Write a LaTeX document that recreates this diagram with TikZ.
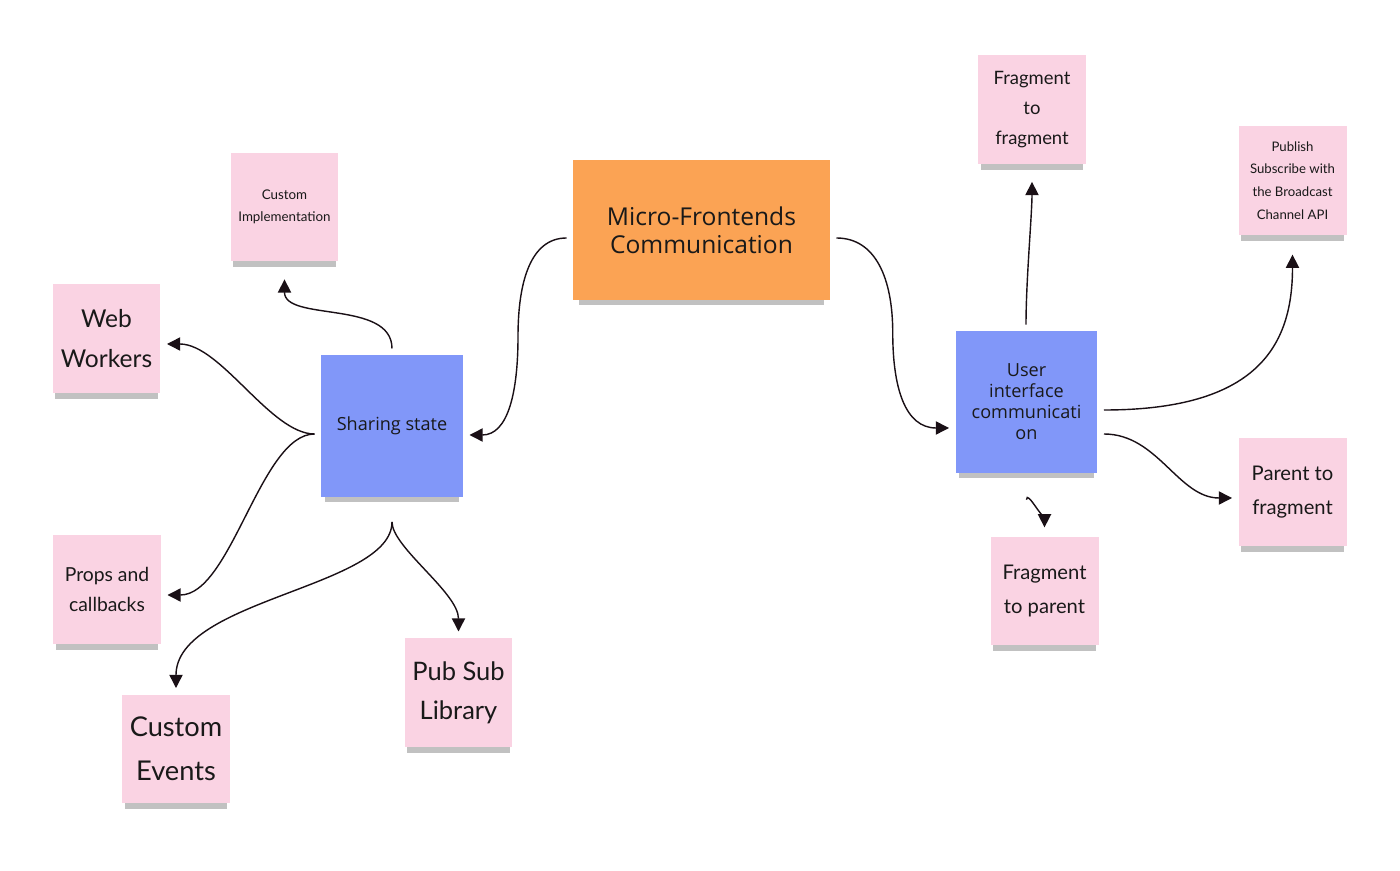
\documentclass[tikz,border=0pt]{standalone}
\usepackage{fontspec}
\setmainfont{Open Sans}
\newfontfamily\notefont{Lato}
\usetikzlibrary{arrows.meta,shadows,calc}
\definecolor{hubfill}{HTML}{FBA354}
\definecolor{topicfill}{HTML}{8197F9}
\definecolor{notefill}{HTML}{FAD3E3}
\definecolor{inkline}{HTML}{1A1016}

\tikzset{
  card/.style={rectangle,inner sep=2pt,align=center,text=black!90,
    general shadow={fill=black!40,shadow yshift=-5pt,shadow scale=0.95,opacity=0.6}},
  hub/.style={card,fill=hubfill,minimum width=5.14cm,minimum height=2.8cm,font=\fontsize{14}{16}\selectfont},
  topic/.style={card,fill=topicfill,minimum width=2.84cm,minimum height=2.84cm,font=\fontsize{10.3}{12}\selectfont},
  note/.style 2 args={card,fill=notefill,minimum width=2.16cm,minimum height=2.18cm,font=\notefont\fontsize{#1}{#2}\selectfont},
  link/.style={-{Triangle[length=7.5pt,width=7.5pt]},draw=inkline,line width=0.8pt,shorten <=3.5pt,shorten >=3.5pt},
}

\begin{document}
\begin{tikzpicture}[x=0.02cm,y=-0.02cm]
\useasboundingbox[fill=white] (0,0) rectangle (1400,871);

% centre and the two topics
\node[hub] (hub) at (701.5,230) {Micro-Frontends\\Communication};
\node[topic] (share) at (392,426) {Sharing state};
\node[topic] (ui) at (1026.5,402) {User\\interface\\communicati\\on};

% notes round sharing state
\node[note={7.6}{12.8}] (impl) at (284.5,207) {Custom\\Implementation};
\node[note={14}{22.7}] (web) at (106.5,338.5) {Web\\Workers};
\node[note={11}{17}] (props) at (107,589.5) {Props and\\callbacks};
\node[note={15.5}{25}] (events) at (176,749) {Custom\\Events};
\node[note={14.5}{22}] (pubsub) at (458.5,692.5) {Pub Sub\\Library};

% notes round ui communication
\node[note={10.5}{17}] (frag) at (1032,109.5) {Fragment\\to\\fragment};
\node[note={7.5}{12.9}] (bcast) at (1292.5,180.5) {Publish\\Subscribe with\\the Broadcast\\Channel API};
\node[note={11.5}{19.3}] (parent) at (1292.5,492) {Parent to\\fragment};
\node[note={11.5}{19.3}] (fragp) at (1044.5,591) {Fragment\\to parent};

% links from the centre
\coordinate (hl) at ([yshift=-0.16cm]hub.west);
\coordinate (sr) at ([yshift=-0.18cm]share.east);
\draw[link] (hl) .. controls +(-42,0) and +(0,-55) .. ($(hl)!0.5!(sr)$)
  .. controls +(0,55) and +(45,0) .. (sr);
\coordinate (hr) at ([yshift=-0.16cm]hub.east);
\coordinate (ul) at ([yshift=-0.52cm]ui.west);
\draw[link] (hr) .. controls +(45,0) and +(0,-55) .. ($(hr)!0.5!(ul)$)
  .. controls +(0,55) and +(-50,0) .. (ul);

% sharing state
\draw[link,shorten >=10pt] (share.north) .. controls +(0,-55) and +(0,60) .. (impl.south);
\draw[link] ([yshift=-0.16cm]share.west) .. controls +(-50,0) and +(60,0) .. ([yshift=-0.11cm]web.east);
\draw[link] ([yshift=-0.16cm]share.west) .. controls +(-60,0) and +(70,0) .. ([yshift=-0.11cm]props.east);
\draw[link,shorten <=14pt] (share.south) .. controls +(0,90) and +(0,-95) .. (events.north);
\draw[link,shorten <=14pt] (share.south) .. controls +(0,50) and +(0,-45) .. (pubsub.north);

% ui communication
\draw[link,shorten >=10pt] ([xshift=-0.01cm]ui.north) .. controls +(0,-50) and +(0,50) .. (frag.south);
\draw[link,shorten >=11pt] ([yshift=-0.16cm]ui.east) .. controls +(160,0) and +(0,110) .. (bcast.south);
\draw[link] ([yshift=-0.64cm]ui.east) .. controls +(60,0) and +(-60,0) .. ([yshift=-0.12cm]parent.west);
\draw[link,shorten <=15pt,shorten >=5pt] (ui.south) .. controls +(0,15) and +(0,-12) .. (fragp.north);
\end{tikzpicture}
\end{document}
